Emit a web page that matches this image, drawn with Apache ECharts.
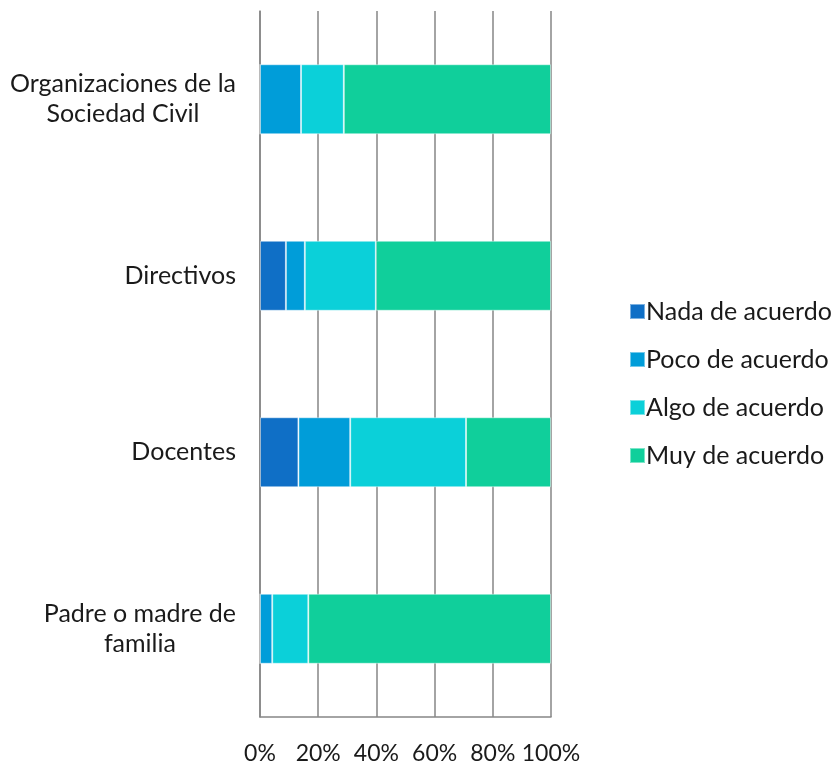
<!DOCTYPE html>
<html>
<head>
<meta charset="utf-8">
<script src="https://cdn.jsdelivr.net/npm/echarts@6/dist/echarts.min.js"></script>
<style>
  html, body { margin: 0; padding: 0; background: #fff; }
  #chart { width: 833px; height: 765px; }
</style>
</head>
<body>
<div id="chart"></div>
<script>
// categorias (de arriba hacia abajo)
var categorias = ['Organizaciones de la\nSociedad Civil', 'Directivos', 'Docentes', 'Padre o madre de\nfamilia'];
// porcentajes por respuesta
var nada = [0, 8.9, 13.2, 0];
var poco = [14.1, 6.5, 17.8, 4.2];
var algo = [14.7, 24.4, 39.8, 12.4];
var muy = [71.2, 60.2, 29.2, 83.4];
var ticks = [0, 20, 40, 60, 80, 100];

var colores = ['#0F6FC6', '#009DD9', '#0BD0D9', '#10CF9B'];
var fuente = 'Lato';
var tam = 25;

var chart = echarts.init(document.getElementById('chart'));

function serie(nombre, datos) {
  return {
    name: nombre,
    type: 'bar',
    stack: 'total',
    barWidth: 70,
    data: datos,
    itemStyle: { borderColor: 'rgba(255,255,255,0.45)', borderWidth: 1 }
  };
}

var option = {
  animation: false,
  color: colores,
  textStyle: { fontFamily: fuente },
  grid: { left: 260, right: 282, top: 11, bottom: 48, containLabel: false },
  legend: {
    orient: 'vertical',
    left: 624,
    top: 294,
    itemWidth: 15,
    itemHeight: 15,
    itemGap: 23,
    icon: 'rect',
    textStyle: { fontSize: tam, color: '#1a1a1a', fontFamily: fuente, padding: [0, 0, 0, -4] },
    data: ['Nada de acuerdo', 'Poco de acuerdo', 'Algo de acuerdo', 'Muy de acuerdo']
  },
  xAxis: {
    type: 'value',
    min: ticks[0],
    max: ticks[ticks.length - 1],
    interval: 20,
    axisLine: { show: true, lineStyle: { color: '#868686', width: 1.5 } },
    axisTick: { show: false },
    splitLine: { show: true, lineStyle: { color: '#868686', width: 1.5 } },
    axisLabel: {
      formatter: '{value}%',
      fontSize: 23,
      color: '#1a1a1a',
      margin: 25,
      fontFamily: fuente
    }
  },
  yAxis: {
    type: 'category',
    inverse: true,
    data: categorias,
    axisLine: { show: true, lineStyle: { color: '#868686', width: 1.5 } },
    axisTick: { show: false },
    axisLabel: {
      margin: 24,
      formatter: function (v) { return '{c|' + v + '}'; },
      rich: {
        c: { fontSize: tam, color: '#1a1a1a', align: 'center', lineHeight: 30, fontFamily: fuente }
      }
    }
  },
  series: [
    serie('Nada de acuerdo', nada),
    serie('Poco de acuerdo', poco),
    serie('Algo de acuerdo', algo),
    serie('Muy de acuerdo', muy)
  ]
};

chart.setOption(option);
</script>
</body>
</html>
